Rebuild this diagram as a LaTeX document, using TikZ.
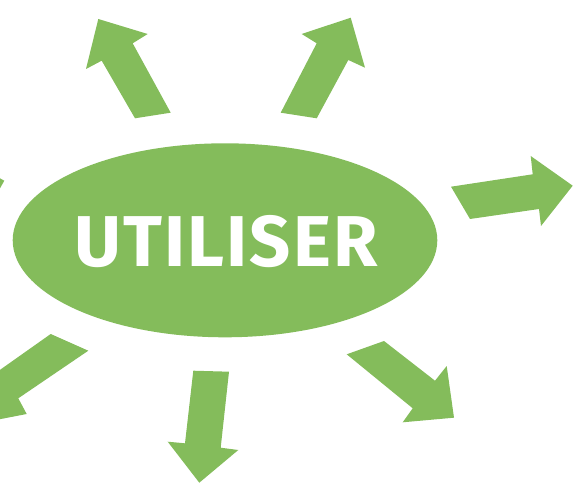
\documentclass[tikz,border=0pt]{standalone}
\usepackage{fontspec}
\setmainfont{Fira Sans}
\newfontfamily\hubfont[LetterSpace=3]{Fira Sans}
\definecolor{leafgreen}{HTML}{84BC5B}
\tikzset{
  bigarrow/.style={fill=leafgreen, draw=none},
  hubtext/.style={inner sep=0pt, text=white,
    font=\hubfont\bfseries\fontsize{72}{72}\selectfont}
}
\begin{document}
\begin{tikzpicture}[x=1pt,y=-1pt]
\useasboundingbox (0,0) rectangle (586,486);
\clip (0,0) rectangle (586,486);
% Centre
\fill[leafgreen] (225,240.3) ellipse [x radius=212.3pt, y radius=97pt];
\node[hubtext] (utiliser) at (226,242) {UTILISER};
% Arrows
\fill[bigarrow] (98.3,19) -- (147.7,34) -- (132.7,43.3) -- (170.7,112.7)
  -- (135,118.3) -- (101.7,60.7) -- (86,69) -- cycle;
\fill[bigarrow] (350.7,17.7) -- (365,67.7) -- (348.3,60) -- (316.7,118.3)
  -- (280.7,112.7) -- (316.7,43.3) -- (301.7,34) -- cycle;
\fill[bigarrow] (451,186.7) -- (532.7,174.3) -- (530.7,156) -- (572.7,185.7)
  -- (541,226) -- (539,209) -- (470,219) -- cycle;
\fill[bigarrow] (384,341) -- (435,380.7) -- (446.7,366) -- (454,417.7)
  -- (402.7,422.3) -- (412.7,408.3) -- (346.7,354.3) -- cycle;
\fill[bigarrow] (193.3,370.7) -- (229,371.7) -- (220.7,447.7) -- (238.3,450)
  -- (199.3,482.7) -- (167.7,441.7) -- (185,443.3) -- cycle;
\fill[bigarrow] (50.7,334) -- (88.3,350.7) -- (18.3,398.3) -- (26.7,414)
  -- (-30,425) -- (-20,384) -- cycle;
\fill[bigarrow] (-6,175) -- (4.3,180.7) -- (-6,199) -- cycle;
\end{tikzpicture}
\end{document}
